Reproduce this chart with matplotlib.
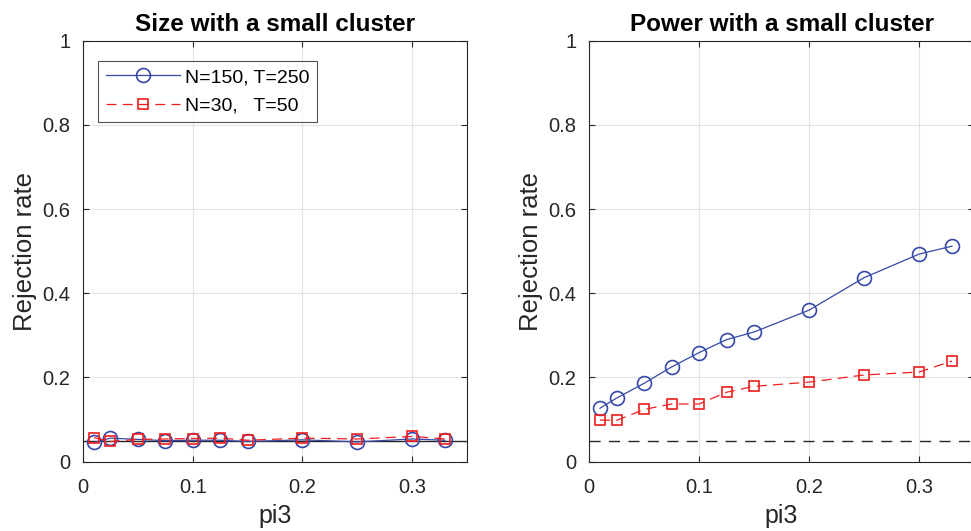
import numpy as np
import matplotlib
matplotlib.use('Agg')
import matplotlib.pyplot as plt

plt.rcParams['font.family'] = ['Liberation Sans', 'DejaVu Sans']

# data
pi3 = [0.01, 0.025, 0.05, 0.075, 0.1, 0.125, 0.15, 0.2, 0.25, 0.3, 0.33]
size_big = [0.046, 0.056, 0.053, 0.050, 0.051, 0.051, 0.048, 0.052, 0.047, 0.054, 0.051]
size_small = [0.057, 0.048, 0.053, 0.054, 0.055, 0.056, 0.051, 0.056, 0.054, 0.060, 0.054]
power_big = [0.127, 0.151, 0.186, 0.225, 0.259, 0.290, 0.308, 0.360, 0.437, 0.493, 0.512]
power_small = [0.099, 0.098, 0.124, 0.137, 0.137, 0.165, 0.179, 0.189, 0.206, 0.213, 0.239]
nominal = 0.05

labels = ['N=150, T=250', 'N=30,   T=50']
titles = ['Size with a small cluster', 'Power with a small cluster']
xticks = [0, 0.1, 0.2, 0.3]
yticks = [0, 0.2, 0.4, 0.6, 0.8, 1]

blue = '#3548a8'
red = '#f01e1e'

fig = plt.figure(figsize=(9.71, 5.31), dpi=100)
ax1 = fig.add_axes([0.0855, 0.1305, 0.3955, 0.7929])
ax2 = fig.add_axes([0.6066, 0.1305, 0.3965, 0.7929])


def style_axes(ax, title):
    ax.set_xlim(0, 0.35)
    ax.set_ylim(0, 1)
    ax.set_xticks(xticks)
    ax.set_xticklabels(['0', '0.1', '0.2', '0.3'])
    ax.set_yticks(yticks)
    ax.set_yticklabels(['0', '0.2', '0.4', '0.6', '0.8', '1'])
    ax.grid(True, color='#e3e3e3', lw=0.8)
    ax.set_axisbelow(True)
    ax.tick_params(direction='in', length=4, width=0.8, colors='#262626',
                   labelsize=14.5, top=True, right=True)
    ax.tick_params(axis='x', pad=12)
    ax.tick_params(axis='y', pad=9)
    for s in ax.spines.values():
        s.set_color('#262626')
        s.set_linewidth(0.8)
    ax.set_title(title, fontsize=17.5, fontweight='bold', pad=7)
    ax.set_xlabel('pi3', fontsize=18, color='#262626', labelpad=5)
    ax.set_ylabel('Rejection rate', fontsize=18.5, color='#262626', labelpad=4)


# left: size
ax1.axhline(nominal, color='#262626', lw=1.0, zorder=1)
ax1.plot(pi3, size_big, '-o', color=blue, lw=0.9, ms=10, mfc='none',
         mew=1.2, label=labels[0], zorder=3)
ax1.plot(pi3, size_small, '--s', color=red, lw=0.9, ms=7.5, mfc='none',
         mew=1.2, dashes=(8, 5), label=labels[1], zorder=4)
style_axes(ax1, titles[0])
leg = ax1.legend(loc='upper left', bbox_to_anchor=(0.04, 0.952), fontsize=14,
                 frameon=True, fancybox=False, edgecolor='#262626',
                 handlelength=3.8, handletextpad=0.25, borderpad=0.4,
                 labelspacing=0.55, borderaxespad=0)
leg.get_frame().set_linewidth(0.8)

# right: power
ax2.axhline(nominal, color='#262626', lw=1.0, dashes=(8, 6), zorder=1)
ax2.plot(pi3, power_big, '-o', color=blue, lw=0.9, ms=10, mfc='none',
         mew=1.2, zorder=3)
ax2.plot(pi3, power_small, '--s', color=red, lw=0.9, ms=7.5, mfc='none',
         mew=1.2, dashes=(8, 5), zorder=4)
style_axes(ax2, titles[1])

fig.savefig('out.png', dpi=100, facecolor='white')
